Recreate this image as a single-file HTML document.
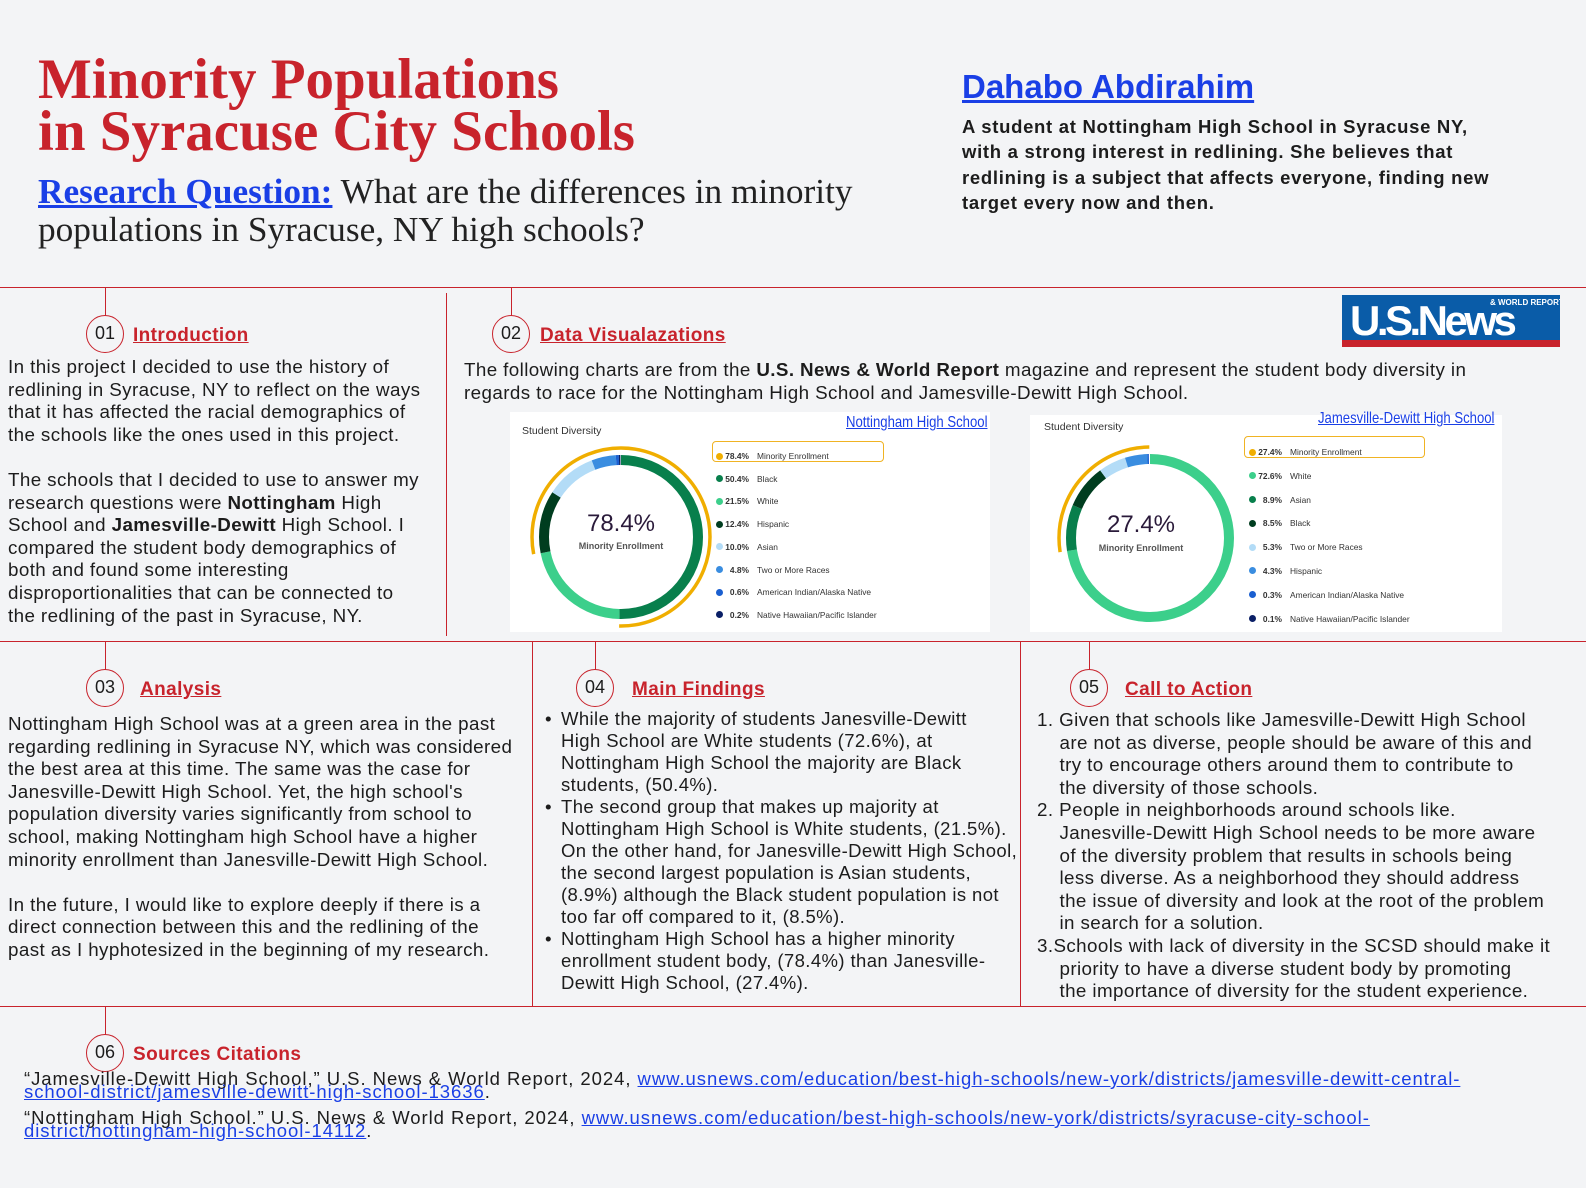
<!DOCTYPE html>
<html><head><meta charset="utf-8">
<style>
*{margin:0;padding:0;box-sizing:border-box}
body{width:1586px;height:1188px;background:#f3f4f6;position:relative;overflow:hidden;font-family:"Liberation Sans",sans-serif;color:#1c1c1c}
.a{position:absolute;white-space:nowrap}
.hl{position:absolute;background:#c8232c}
.t{font-size:18.8px;line-height:22.6px;letter-spacing:0.4px}
.num{position:absolute;width:38px;height:38px;border:1.5px solid #c8232c;border-radius:50%;font-size:18px;text-align:center;line-height:35px;background:#f3f4f6;color:#1c1c1c}
.h{position:absolute;color:#c8232c;font-weight:bold;font-size:19px;letter-spacing:0.4px;text-decoration:underline;white-space:nowrap}
.lg{font-size:8.4px;color:#333}
.lg b{display:inline-block;width:24px;text-align:right;margin-right:8px;font-weight:bold}
.lg i{display:inline-block;width:7px;height:7px;border-radius:50%;margin-right:2px;vertical-align:-0.5px}
a{color:#1a3fe6;text-decoration:underline}
</style></head><body>

<div class="a" style="left:38px;top:54px;font-family:'Liberation Serif',serif;font-weight:bold;font-size:57px;line-height:52px;color:#c8232c">Minority Populations<br>in Syracuse City Schools</div>
<div class="a" style="left:38px;top:173px;font-family:'Liberation Serif',serif;font-size:35.3px;line-height:38px;color:#222"><span style="color:#1a3fe6;text-decoration:underline;font-weight:bold">Research Question:</span> What are the differences in minority<br>populations in Syracuse, NY high schools?</div>

<div class="a" style="left:962px;top:68px;font-size:33px;font-weight:bold;color:#1a3fe6;text-decoration:underline">Dahabo Abdirahim</div>
<div class="a" style="left:962px;top:114px;font-size:18.5px;letter-spacing:0.7px;font-weight:bold;line-height:25.3px">A student at Nottingham High School in Syracuse NY,<br>with a strong interest in redlining. She believes that<br>redlining is a subject that affects everyone, finding new<br>target every now and then.</div>

<!-- lines -->
<div class="hl" style="left:0;top:287px;width:1586px;height:1px"></div>
<div class="hl" style="left:0;top:641px;width:1586px;height:1px"></div>
<div class="hl" style="left:0;top:1006px;width:1586px;height:1px"></div>
<div class="hl" style="left:446px;top:293px;width:1px;height:343px"></div>
<div class="hl" style="left:532px;top:641px;width:1px;height:365px"></div>
<div class="hl" style="left:1020px;top:641px;width:1px;height:365px"></div>
<div class="hl" style="left:105px;top:287px;width:1px;height:30px"></div>
<div class="hl" style="left:511px;top:287px;width:1px;height:30px"></div>
<div class="hl" style="left:105px;top:641px;width:1px;height:30px"></div>
<div class="hl" style="left:595px;top:641px;width:1px;height:30px"></div>
<div class="hl" style="left:1089px;top:641px;width:1px;height:30px"></div>
<div class="hl" style="left:105px;top:1006px;width:1px;height:30px"></div>

<!-- 01 -->
<div class="num" style="left:86px;top:315px">01</div>
<div class="h" style="left:133px;top:325px">Introduction</div>
<div class="a t" style="left:8px;top:356px">In this project I decided to use the history of<br>redlining in Syracuse, NY to reflect on the ways<br>that it has affected the racial demographics of<br>the schools like the ones used in this project.<br><span style="line-height:18px">&nbsp;</span><br>The schools that I decided to use to answer my<br>research questions were <b>Nottingham</b> High<br>School and <b>Jamesville-Dewitt</b> High School. I<br>compared the student body demographics of<br>both and found some interesting<br>disproportionalities that can be connected to<br>the redlining of the past in Syracuse, NY.</div>

<!-- 02 -->
<div class="num" style="left:492px;top:315px">02</div>
<div class="h" style="left:540px;top:325px">Data Visualazations</div>
<div class="a t" style="left:464px;top:359px">The following charts are from the <b>U.S. News &amp; World Report</b> magazine and represent the student body diversity in<br>regards to race for the Nottingham High School and Jamesville-Dewitt High School.</div>

<!-- logo -->
<div class="a" style="left:1342px;top:295px;width:218px;height:52px;background:#0a5ca8;overflow:hidden">
 <div class="a" style="left:8px;top:4px;font-size:42px;font-weight:bold;color:#fff;letter-spacing:-3.5px;line-height:44px">U.S.News</div>
 <div class="a" style="left:148px;top:3px;font-size:8px;font-weight:bold;color:#fff">&amp; WORLD REPORT</div>
</div>
<div class="a" style="left:1342px;top:340px;width:218px;height:7px;background:#c8232c"></div>

<!-- chart 1 -->
<div class="a" style="left:510px;top:412px;width:480px;height:220px;background:#fff"></div>
<div class="a" style="left:522px;top:425px;font-size:10.5px;color:#333">Student Diversity</div>
<div class="a" style="left:846px;top:414px;font-size:16px;color:#1a3fe6;text-decoration:underline;transform:scaleX(0.82);transform-origin:left">Nottingham High School</div>
<svg class="a" style="left:0;top:0" width="1586" height="1188">
 <g transform="translate(621,537) rotate(-90)">
  <circle r="77" fill="none" stroke="#087f4c" stroke-width="10" pathLength="100" stroke-dasharray="50.4 100"/>
  <circle r="77" fill="none" stroke="#3ccf8b" stroke-width="10" pathLength="100" stroke-dasharray="21.5 100" stroke-dashoffset="-50.4"/>
  <circle r="77" fill="none" stroke="#003d1f" stroke-width="10" pathLength="100" stroke-dasharray="12.4 100" stroke-dashoffset="-71.9"/>
  <circle r="77" fill="none" stroke="#b3dcf7" stroke-width="10" pathLength="100" stroke-dasharray="10 100" stroke-dashoffset="-84.3"/>
  <circle r="77" fill="none" stroke="#3a8de0" stroke-width="10" pathLength="100" stroke-dasharray="4.8 100" stroke-dashoffset="-94.3"/>
  <circle r="77" fill="none" stroke="#1a5fd0" stroke-width="10" pathLength="100" stroke-dasharray="0.6 100" stroke-dashoffset="-99.1"/>
  <circle r="77" fill="none" stroke="#0a1f66" stroke-width="10" pathLength="100" stroke-dasharray="0.3 100" stroke-dashoffset="-99.7"/>
  <circle r="89" fill="none" stroke="#f0ae00" stroke-width="3.5" pathLength="100" stroke-dasharray="50.4 21.6 28.1 0"/>
 </g>
 <g transform="translate(1150,538) rotate(-90)">
  <circle r="79" fill="none" stroke="#3ccf8b" stroke-width="10" pathLength="100" stroke-dasharray="72.6 100"/>
  <circle r="79" fill="none" stroke="#087f4c" stroke-width="10" pathLength="100" stroke-dasharray="8.9 100" stroke-dashoffset="-72.6"/>
  <circle r="79" fill="none" stroke="#003d1f" stroke-width="10" pathLength="100" stroke-dasharray="8.5 100" stroke-dashoffset="-81.5"/>
  <circle r="79" fill="none" stroke="#b3dcf7" stroke-width="10" pathLength="100" stroke-dasharray="5.3 100" stroke-dashoffset="-90"/>
  <circle r="79" fill="none" stroke="#3a8de0" stroke-width="10" pathLength="100" stroke-dasharray="4.3 100" stroke-dashoffset="-95.3"/>
  <circle r="79" fill="none" stroke="#1a5fd0" stroke-width="10" pathLength="100" stroke-dasharray="0.3 100" stroke-dashoffset="-99.6"/>
  <circle r="91" fill="none" stroke="#f0ae00" stroke-width="3.5" pathLength="100" stroke-dasharray="0 72.6 27.4 0"/>
 </g>
</svg>
<div class="a" style="left:571px;top:510px;width:100px;text-align:center;font-size:24px;color:#2a1a3a">78.4%</div>
<div class="a" style="left:561px;top:541px;width:120px;text-align:center;font-size:9px;font-weight:bold;color:#555">Minority Enrollment</div>
<div class="a" style="left:712px;top:441px;width:172px;height:21px;border:1.5px solid #f0b323;border-radius:4px;background:#fff"></div>
<div class="a lg" style="left:716px;top:445px;line-height:22.7px">
<i style="background:#f0ae00"></i><b>78.4%</b>Minority Enrollment<br>
<i style="background:#087f4c"></i><b>50.4%</b>Black<br>
<i style="background:#3ccf8b"></i><b>21.5%</b>White<br>
<i style="background:#003d1f"></i><b>12.4%</b>Hispanic<br>
<i style="background:#b3dcf7"></i><b>10.0%</b>Asian<br>
<i style="background:#3a8de0"></i><b>4.8%</b>Two or More Races<br>
<i style="background:#1a5fd0"></i><b>0.6%</b>American Indian/Alaska Native<br>
<i style="background:#0a1f66"></i><b>0.2%</b>Native Hawaiian/Pacific Islander</div>

<!-- chart 2 -->
<div class="a" style="left:1030px;top:415px;width:472px;height:217px;background:#fff;z-index:-1"></div>
<div class="a" style="left:1044px;top:421px;font-size:10.5px;color:#333">Student Diversity</div>
<div class="a" style="left:1318px;top:410px;font-size:16px;color:#1a3fe6;text-decoration:underline;transform:scaleX(0.82);transform-origin:left">Jamesville-Dewitt High School</div>
<div class="a" style="left:1091px;top:511px;width:100px;text-align:center;font-size:24px;color:#2a1a3a">27.4%</div>
<div class="a" style="left:1081px;top:543px;width:120px;text-align:center;font-size:9px;font-weight:bold;color:#555">Minority Enrollment</div>
<div class="a" style="left:1244px;top:436px;width:181px;height:22px;border:1.5px solid #f0b323;border-radius:4px;background:#fff"></div>
<div class="a lg" style="left:1249px;top:441px;line-height:23.8px">
<i style="background:#f0ae00"></i><b>27.4%</b>Minority Enrollment<br>
<i style="background:#3ccf8b"></i><b>72.6%</b>White<br>
<i style="background:#087f4c"></i><b>8.9%</b>Asian<br>
<i style="background:#003d1f"></i><b>8.5%</b>Black<br>
<i style="background:#b3dcf7"></i><b>5.3%</b>Two or More Races<br>
<i style="background:#3a8de0"></i><b>4.3%</b>Hispanic<br>
<i style="background:#1a5fd0"></i><b>0.3%</b>American Indian/Alaska Native<br>
<i style="background:#0a1f66"></i><b>0.1%</b>Native Hawaiian/Pacific Islander</div>

<!-- 03 -->
<div class="num" style="left:86px;top:669px">03</div>
<div class="h" style="left:140px;top:679px">Analysis</div>
<div class="a t" style="left:8px;top:713px">Nottingham High School was at a green area in the past<br>regarding redlining in Syracuse NY, which was considered<br>the best area at this time. The same was the case for<br>Janesville-Dewitt High School. Yet, the high school's<br>population diversity varies significantly from school to<br>school, making Nottingham high School have a higher<br>minority enrollment than Janesville-Dewitt High School.<br><span style="line-height:22px">&nbsp;</span><br>In the future, I would like to explore deeply if there is a<br>direct connection between this and the redlining of the<br>past as I hyphotesized in the beginning of my research.</div>

<!-- 04 -->
<div class="num" style="left:576px;top:669px">04</div>
<div class="h" style="left:632px;top:679px">Main Findings</div>
<div class="a t" style="left:545px;top:708px;line-height:22px">•<br><br><br><br>•<br><br><br><br><br><br>•</div>
<div class="a t" style="left:561px;top:708px;line-height:22px;font-size:18.5px">While the majority of students Janesville-Dewitt<br>High School are White students (72.6%), at<br>Nottingham High School the majority are Black<br>students, (50.4%).<br>The second group that makes up majority at<br>Nottingham High School is White students, (21.5%).<br>On the other hand, for Janesville-Dewitt High School,<br>the second largest population is Asian students,<br>(8.9%) although the Black student population is not<br>too far off compared to it, (8.5%).<br>Nottingham High School has a higher minority<br>enrollment student body, (78.4%) than Janesville-<br>Dewitt High School, (27.4%).</div>

<!-- 05 -->
<div class="num" style="left:1070px;top:669px">05</div>
<div class="h" style="left:1125px;top:679px">Call to Action</div>
<div class="a t" style="left:1037px;top:709px">1. Given that schools like Jamesville-Dewitt High School<br>&nbsp;&nbsp;&nbsp;&nbsp;are not as diverse, people should be aware of this and<br>&nbsp;&nbsp;&nbsp;&nbsp;try to encourage others around them to contribute to<br>&nbsp;&nbsp;&nbsp;&nbsp;the diversity of those schools.<br>2. People in neighborhoods around schools like.<br>&nbsp;&nbsp;&nbsp;&nbsp;Janesville-Dewitt High School needs to be more aware<br>&nbsp;&nbsp;&nbsp;&nbsp;of the diversity problem that results in schools being<br>&nbsp;&nbsp;&nbsp;&nbsp;less diverse. As a neighborhood they should address<br>&nbsp;&nbsp;&nbsp;&nbsp;the issue of diversity and look at the root of the problem<br>&nbsp;&nbsp;&nbsp;&nbsp;in search for a solution.<br>3.Schools with lack of diversity in the SCSD should make it<br>&nbsp;&nbsp;&nbsp;&nbsp;priority to have a diverse student body by promoting<br>&nbsp;&nbsp;&nbsp;&nbsp;the importance of diversity for the student experience.</div>

<!-- 06 -->
<div class="num" style="left:86px;top:1034px">06</div>
<div class="a" style="left:133px;top:1044px;color:#c8232c;font-weight:bold;font-size:19px;letter-spacing:0.4px">Sources Citations</div>
<div class="a" style="left:24px;top:1072px;font-size:18.5px;letter-spacing:0.95px;line-height:13px">“Jamesville-Dewitt High School,” U.S. News &amp; World Report, 2024, <a>www.usnews.com/education/best-high-schools/new-york/districts/jamesville-dewitt-central-</a><br><a>school-district/jamesville-dewitt-high-school-13636</a>.</div>
<div class="a" style="left:24px;top:1111px;font-size:18.5px;letter-spacing:0.95px;line-height:13px">“Nottingham High School.” U.S. News &amp; World Report, 2024, <a>www.usnews.com/education/best-high-schools/new-york/districts/syracuse-city-school-</a><br><a>district/nottingham-high-school-14112</a>.</div>
</body></html>
